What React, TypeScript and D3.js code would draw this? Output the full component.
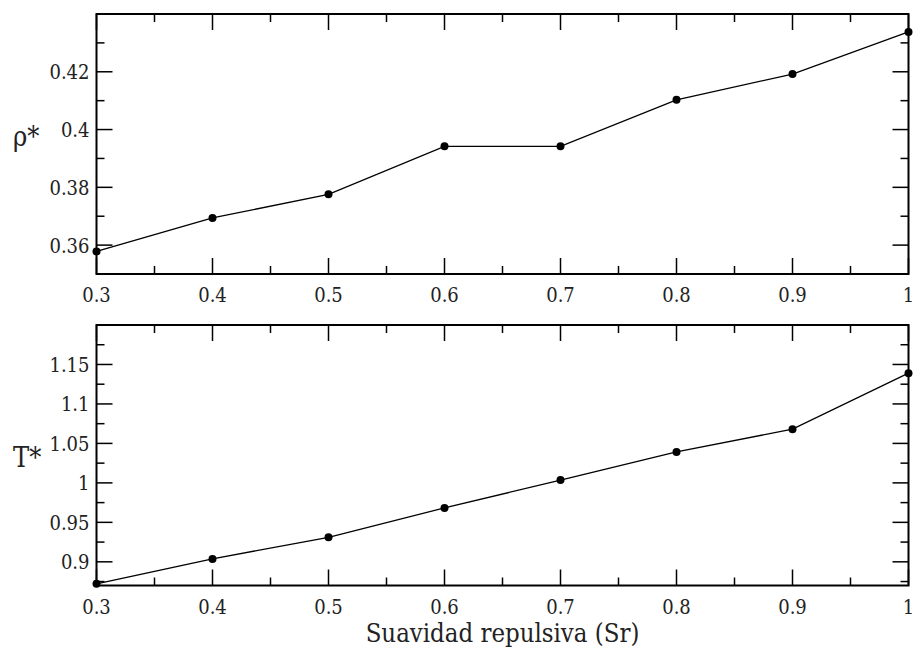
import React from "react";
import * as d3 from "d3";

const xValues = [0.3, 0.4, 0.5, 0.6, 0.7, 0.8, 0.9, 1.0];
const rhoValues = [0.3578, 0.3694, 0.3776, 0.3942, 0.3942, 0.4103, 0.4192, 0.4338];
const tValues = [0.8722, 0.9037, 0.9311, 0.9683, 1.0035, 1.0392, 1.068, 1.139];

const xMajorTicks = [0.3, 0.4, 0.5, 0.6, 0.7, 0.8, 0.9, 1.0];
const xMinorTicks = [0.35, 0.45, 0.55, 0.65, 0.75, 0.85, 0.95];
const rhoMajorTicks = [0.36, 0.38, 0.4, 0.42];
const rhoMinorTicks = [0.35, 0.37, 0.39, 0.41, 0.43];
const tMajorTicks = [0.9, 0.95, 1.0, 1.05, 1.1, 1.15];
const tMinorTicks = [0.875, 0.925, 0.975, 1.025, 1.075, 1.125, 1.175];

const W = 913;
const H = 647;
const LEFT = 96.5;
const RIGHT = 908.5;
const FONT = "DejaVu Serif Condensed";

const fmt = (v: number) => String(+v.toFixed(3));

type PanelProps = {
  top: number;
  bottom: number;
  domain: [number, number];
  values: number[];
  yMajor: number[];
  yMinor: number[];
  title: string;
  titleY: number;
};

function Panel({ top, bottom, domain, values, yMajor, yMinor, title, titleY }: PanelProps) {
  const x = d3.scaleLinear().domain([0.3, 1.0]).range([LEFT, RIGHT]);
  const y = d3.scaleLinear().domain(domain).range([bottom, top]);
  const line = d3
    .line<number>()
    .x((_, i) => x(xValues[i]))
    .y((d) => y(d));
  const MAJ = 16;
  const MIN = 8;
  const tickStyle = { stroke: "#000", strokeWidth: 1.5 };
  return (
    <g>
      {xMajorTicks.map((t) => (
        <g key={"xM" + t}>
          <line x1={x(t)} x2={x(t)} y1={bottom} y2={bottom - MAJ} {...tickStyle} />
          <line x1={x(t)} x2={x(t)} y1={top} y2={top + MAJ} {...tickStyle} />
          <text x={x(t)} y={bottom + 28} textAnchor="middle" fontFamily={FONT} fontSize={20} fill="#222">
            {fmt(t)}
          </text>
        </g>
      ))}
      {xMinorTicks.map((t) => (
        <g key={"xm" + t}>
          <line x1={x(t)} x2={x(t)} y1={bottom} y2={bottom - MIN} {...tickStyle} />
          <line x1={x(t)} x2={x(t)} y1={top} y2={top + MIN} {...tickStyle} />
        </g>
      ))}
      {yMajor.map((t) => (
        <g key={"yM" + t}>
          <line x1={LEFT} x2={LEFT + MAJ} y1={y(t)} y2={y(t)} {...tickStyle} />
          <line x1={RIGHT} x2={RIGHT - MAJ} y1={y(t)} y2={y(t)} {...tickStyle} />
          <text x={LEFT - 7} y={y(t) + 7.5} textAnchor="end" fontFamily={FONT} fontSize={20} fill="#222">
            {fmt(t)}
          </text>
        </g>
      ))}
      {yMinor.map((t) => (
        <g key={"ym" + t}>
          <line x1={LEFT} x2={LEFT + MIN} y1={y(t)} y2={y(t)} {...tickStyle} />
          <line x1={RIGHT} x2={RIGHT - MIN} y1={y(t)} y2={y(t)} {...tickStyle} />
        </g>
      ))}
      <rect x={LEFT} y={top} width={RIGHT - LEFT} height={bottom - top} fill="none" stroke="#000" strokeWidth={2} />
      <path d={line(values) || ""} fill="none" stroke="#000" strokeWidth={1.3} />
      {values.map((v, i) => (
        <circle key={"p" + i} cx={x(xValues[i])} cy={y(v)} r={4} fill="#000" />
      ))}
      <text x={13} y={titleY} fontFamily={FONT} fontSize={27} fill="#222">
        {title}
      </text>
    </g>
  );
}

export default function App() {
  return (
    <svg
      width={W}
      height={H}
      viewBox={`0 0 ${W} ${H}`}
      style={{ position: "absolute", left: 0, top: 0, background: "#fff", display: "block" }}
    >
      <rect x={0} y={0} width={W} height={H} fill="#fff" />
      <Panel
        top={14}
        bottom={274}
        domain={[0.35, 0.44]}
        values={rhoValues}
        yMajor={rhoMajorTicks}
        yMinor={rhoMinorTicks}
        title="ρ*"
        titleY={146}
      />
      <Panel
        top={325}
        bottom={585.5}
        domain={[0.87, 1.2]}
        values={tValues}
        yMajor={tMajorTicks}
        yMinor={tMinorTicks}
        title="T*"
        titleY={467}
      />
      <text x={(LEFT + RIGHT) / 2} y={642} textAnchor="middle" fontFamily={FONT} fontSize={25.5} fill="#222">
        Suavidad repulsiva (Sr)
      </text>
    </svg>
  );
}
